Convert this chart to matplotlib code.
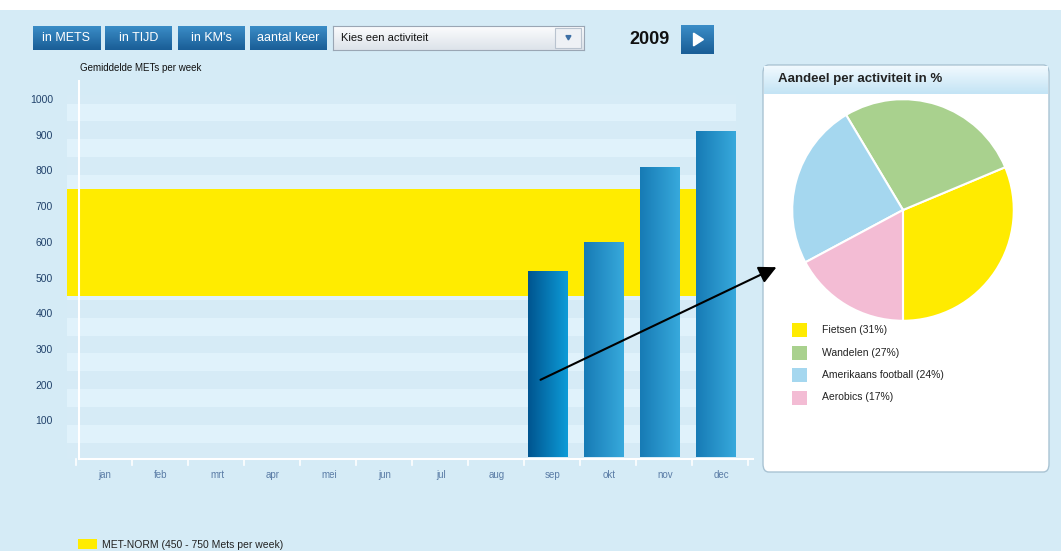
import numpy as np
import matplotlib
matplotlib.use('Agg')
import matplotlib.pyplot as plt
from matplotlib.patches import Rectangle, FancyBboxPatch, Polygon, FancyArrowPatch
from matplotlib.colors import LinearSegmentedColormap

plt.rcParams['font.family'] = ['Liberation Sans', 'DejaVu Sans']

# data
months = ['jan', 'feb', 'mrt', 'apr', 'mei', 'jun', 'jul', 'aug', 'sep', 'okt', 'nov', 'dec']
mets = [0, 0, 0, 0, 0, 0, 0, 0, 521, 600, 812, 913]
norm_low, norm_high = 450, 750
y_ticks = [100, 200, 300, 400, 500, 600, 700, 800, 900, 1000]

activities = ['Fietsen', 'Wandelen', 'Amerikaans football', 'Aerobics']
shares = [31, 27, 24, 17]
pie_colors = ['#ffeb00', '#a9d18e', '#a5d7ef', '#f3bcd4']

buttons = ['in METS', 'in TIJD', "in KM's", 'aantal keer']
year = '2009'

W, H = 1061, 551
fig = plt.figure(figsize=(W / 100, H / 100), dpi=100)
fig.patch.set_facecolor('#d5ebf6')


def px(x, y):
    return x / W, 1 - y / H


def box(x0, y0, x1, y1):
    return [x0 / W, 1 - y1 / H, (x1 - x0) / W, (y1 - y0) / H]


# white strip at the top
fig.add_artist(Rectangle(px(0, 10), 1, 10 / H, transform=fig.transFigure,
                         facecolor='white', edgecolor='none', zorder=-5))

# --- toolbar ---
btn_cmap = LinearSegmentedColormap.from_list('btn', ['#1a5e97', '#3a8cc6'])
btn_x = [(33, 100), (105, 172), (178, 244), (250, 327)]
for label, (x0, x1) in zip(buttons, btn_x):
    bax = fig.add_axes(box(x0, 26, x1, 50))
    bax.imshow(np.linspace(0, 1, 20).reshape(-1, 1), cmap=btn_cmap, aspect='auto',
               extent=[0, 1, 0, 1], origin='lower')
    bax.text(0.5, 0.5, label, color='white', fontsize=9, ha='center', va='center')
    bax.set_axis_off()

dax = fig.add_axes(box(333, 26, 584, 50))
dax.imshow(np.linspace(0, 1, 20).reshape(-1, 1),
           cmap=LinearSegmentedColormap.from_list('dd', ['#dde3ea', '#fbfcfd']),
           aspect='auto', extent=[0, 1, 0, 1], origin='lower')
dax.add_patch(Rectangle((0.885, 0.08), 0.105, 0.84, facecolor='#eef1f5', edgecolor='#b9c3cf', lw=0.8))
dax.add_patch(Polygon([[0.928, 0.6], [0.948, 0.6], [0.938, 0.42]], color='#3c6fa5'))
dax.text(0.03, 0.5, 'Kies een activiteit', fontsize=8, va='center', color='#111111')
for s in dax.spines.values():
    s.set_edgecolor('#9aa6b4')
dax.set_xticks([])
dax.set_yticks([])
dax.set_xlim(0, 1)
dax.set_ylim(0, 1)

fig.text(*px(650, 39), year, fontsize=13, fontweight='bold', ha='center', va='center', color='#111111')
pax = fig.add_axes(box(681, 25, 714, 54))
pax.imshow(np.linspace(0, 1, 20).reshape(-1, 1), cmap=btn_cmap, aspect='auto',
           extent=[0, 1, 0, 1], origin='lower')
pax.add_patch(Polygon([[0.38, 0.28], [0.38, 0.72], [0.68, 0.5]], color='white'))
pax.set_xlim(0, 1)
pax.set_ylim(0, 1)
pax.set_axis_off()

# --- bar chart ---
left_px, right_px, top_px, bot_px = 67, 736, 95, 459
x_per_px = 1 / 56
xlim = ((left_px - 105) * x_per_px, (right_px - 105) * x_per_px)
ylim = ((457 - bot_px) / 0.357, (457 - top_px) / 0.357)

ax = fig.add_axes(box(left_px, top_px, right_px, bot_px))
ax.set_facecolor('#d6ebf6')
for k in y_ticks:
    ax.axhspan(k - 60, k - 10, color='#e0f2fb', lw=0, zorder=0)
ax.axhspan(norm_low, norm_high, color='#ffec00', lw=0, zorder=1)

sep_cmap = LinearSegmentedColormap.from_list('sep', ['#005590', '#0d9bd7'])
bar_cmap = LinearSegmentedColormap.from_list('bar', ['#177bb5', '#37a9dc'])
grad = np.linspace(0, 1, 50).reshape(1, -1)
bar_w = 0.714
first = True
for i, v in enumerate(mets):
    if v <= 0:
        continue
    xc = i - 0.09
    ax.imshow(grad, cmap=sep_cmap if first else bar_cmap, aspect='auto',
              extent=[xc - bar_w / 2, xc + bar_w / 2, 0, v], zorder=3)
    first = False

ax.set_xlim(*xlim)
ax.set_ylim(*ylim)
ax.set_xticks([])
ax.set_yticks([])
for s in ax.spines.values():
    s.set_visible(False)

# axis lines (white) with month separators
axis_x = (79 - 105) * x_per_px
ax.plot([axis_x, axis_x], [0, ylim[1] + 40], color='white', lw=1.5, clip_on=False, zorder=4)
ax.plot([axis_x, 11.5 + 0.08], [ylim[0], ylim[0]], color='white', lw=1.5, clip_on=False, zorder=4)
for i in range(len(months) + 1):
    xb = i - 0.5 - 0.02
    ax.plot([xb, xb], [ylim[0], ylim[0] - 18], color='white', lw=1.2, clip_on=False, zorder=4)
for i, m in enumerate(months):
    ax.text(i, ylim[0] - 45, m, fontsize=7, color='#5a7ca6', ha='center', va='center')
for k in y_ticks:
    ax.text(xlim[0] - 14 * x_per_px, k, str(k), fontsize=7.5, color='#21426b', ha='right', va='center')

fig.text(*px(80, 68), 'Gemiddelde METs per week', fontsize=7, color='#111111', va='center')

# legend at the bottom
fig.add_artist(Rectangle(px(78, 549), 19 / W, 10 / H, transform=fig.transFigure,
                         facecolor='#ffec00', edgecolor='none'))
fig.text(*px(102, 545), 'MET-NORM (450 - 750 Mets per week)', fontsize=7.5, color='#222222', va='center')

# --- pie panel ---
panel = fig.add_axes(box(763, 65, 1049, 472), zorder=-1)
panel.set_xlim(0, 1)
panel.set_ylim(0, 1)
panel.set_axis_off()
panel.add_patch(FancyBboxPatch((0, 0), 1, 1, boxstyle='round,pad=0,rounding_size=0.02',
                               transform=panel.transAxes, facecolor='white',
                               edgecolor='#a9c3d3', lw=1, clip_on=False))

hax = fig.add_axes(box(764, 66, 1048, 94))
hax.imshow(np.linspace(0, 1, 20).reshape(-1, 1),
           cmap=LinearSegmentedColormap.from_list('hd', ['#c4e4f5', '#f0f9fe']),
           aspect='auto', extent=[0, 1, 0, 1], origin='lower')
hax.text(0.05, 0.52, 'Aandeel per activiteit in %', fontsize=9.5, fontweight='bold',
         color='#222222', va='center')
hax.set_xlim(0, 1)
hax.set_ylim(0, 1)
hax.set_axis_off()

pie_ax = fig.add_axes(box(790, 97, 1016, 323))
pie_ax.pie(shares, colors=pie_colors, startangle=-90, counterclock=True,
           wedgeprops=dict(edgecolor='white', linewidth=1.5))
pie_ax.set_xlim(-1.02, 1.02)
pie_ax.set_ylim(-1.02, 1.02)
pie_ax.set_aspect('equal')

for j, (name, pct, col) in enumerate(zip(activities, shares, pie_colors)):
    yc = 330 + j * 22.5
    fig.add_artist(Rectangle(px(792, yc + 7), 15 / W, 14 / H, transform=fig.transFigure,
                             facecolor=col, edgecolor='none'))
    fig.text(*px(822, yc), f'{name} ({pct}%)', fontsize=7.5, color='#222222', va='center')

# arrow from the bar chart to the pie
fig.add_artist(FancyArrowPatch(
    px(538, 381), px(779, 266), transform=fig.transFigure,
    arrowstyle='-|>,head_length=7,head_width=3.5', color='black', lw=1.5, mutation_scale=1.5,
    zorder=10))

fig.savefig('out.png', dpi=100)
